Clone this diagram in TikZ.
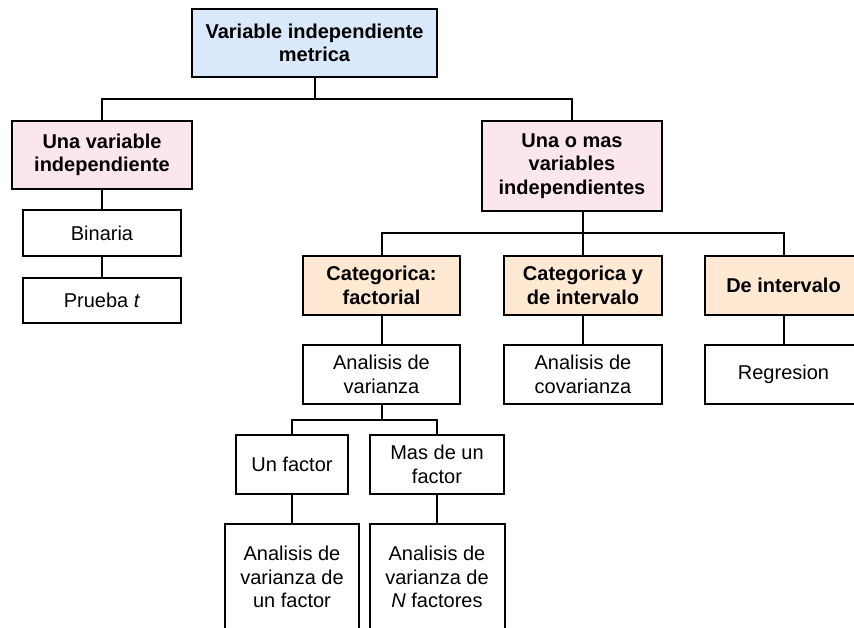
\documentclass[tikz,border=0pt]{standalone}
\usepackage{fontspec}
\setmainfont{Liberation Sans}
\definecolor{topblue}{HTML}{DAE8FC}
\definecolor{pinkfill}{HTML}{FCE6EE}
\definecolor{orangefill}{HTML}{FFE9D3}
\tikzset{
  box/.style={draw=black, line width=2pt, inner sep=0pt, align=center,
    font=\fontsize{20}{23.5}\selectfont},
  boldbox/.style={box, font=\fontsize{20}{23.5}\selectfont\bfseries},
  link/.style={draw=black, line width=2pt}
}
\begin{document}
\begin{tikzpicture}[x=1pt,y=-1pt]
\useasboundingbox (0,0) rectangle (854,627);
\clip (0,0) rectangle (854,627);
\fill[white] (0,0) rectangle (854,627);
% level 0
\node[boldbox, fill=topblue, minimum width=245, minimum height=68] (top) at (314.5,43) {Variable independiente\\metrica};
% level 1
\node[boldbox, fill=pinkfill, minimum width=180, minimum height=68] (una1) at (102,155) {Una variable\\independiente};
\node[boldbox, fill=pinkfill, minimum width=180, minimum height=90] (una2) at (572,166) {Una o mas\\variables\\independientes};
% left branch
\node[box, minimum width=158, minimum height=46] (bin) at (102,233) {Binaria};
\node[box, minimum width=158, minimum height=45] (pru) at (102,300.5) {Prueba \textit{t}};
% level 2
\node[boldbox, fill=orangefill, minimum width=157, minimum height=59] (cat1) at (381.5,285.5) {Categorica:\\factorial};
\node[boldbox, fill=orangefill, minimum width=158, minimum height=59] (cat2) at (583,285.5) {Categorica y\\de intervalo};
\node[boldbox, fill=orangefill, minimum width=157, minimum height=59] (cat3) at (783.5,285.5) {De intervalo};
% level 3
\node[box, minimum width=157, minimum height=59] (anv) at (381.5,374.5) {Analisis de\\varianza};
\node[box, minimum width=158, minimum height=59] (anc) at (583,374.5) {Analisis de\\covarianza};
\node[box, minimum width=157, minimum height=59] (reg) at (783.5,374.5) {Regresion};
% level 4
\node[box, minimum width=112, minimum height=59] (f1) at (292,464.5) {Un factor};
\node[box, minimum width=134, minimum height=59] (f2) at (437,464.5) {Mas de un\\factor};
% level 5
\node[box, minimum width=134, minimum height=106] (av1) at (292,577) {Analisis de\\varianza de\\un factor};
\node[box, minimum width=135, minimum height=106] (av2) at (437,577) {Analisis de\\varianza de\\\textit{N} factores};
% connectors
\coordinate (b1) at (314.5,99);
\coordinate (b2) at (583,233);
\coordinate (b3) at (381.5,420);
\draw[link] (top.south) -- (b1);
\draw[link] (una1.north) |- (b1) -| (una2.north);
\draw[link] (una1.south) -- (bin.north);
\draw[link] (bin.south) -- (pru.north);
\draw[link] (b2 |- una2.south) -- (b2);
\draw[link] (cat1.north) |- (b2) -| (cat3.north);
\draw[link] (b2) -- (cat2.north);
\draw[link] (cat1.south) -- (anv.north);
\draw[link] (cat2.south) -- (anc.north);
\draw[link] (cat3.south) -- (reg.north);
\draw[link] (anv.south) -- (b3);
\draw[link] (f1.north) |- (b3) -| (f2.north);
\draw[link] (f1.south) -- (av1.north);
\draw[link] (f2.south) -- (av2.north);
\end{tikzpicture}
\end{document}
